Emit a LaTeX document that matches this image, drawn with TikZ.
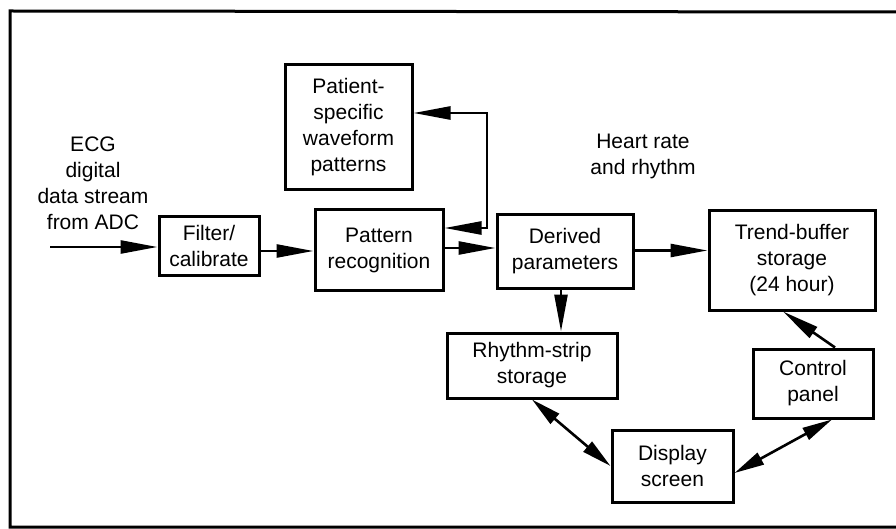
\documentclass[tikz,border=0pt]{standalone}
\usepackage{fontspec}
\setmainfont{Liberation Sans}
\usetikzlibrary{arrows.meta}
\begin{document}
\begin{tikzpicture}[x=1pt,y=-1pt,
  box/.style={draw, line width=3pt, align=center, inner sep=0pt, font=\fontsize{21}{26}\selectfont},
  txt/.style={align=center, inner sep=0pt, font=\fontsize{21}{26}\selectfont},
  conn/.style={line width=2.6pt, -{Triangle[length=37pt,width=13pt]}},
  dconn/.style={line width=2.6pt, {Triangle[length=30pt,width=13pt]}-{Triangle[length=30pt,width=13pt]}},
  frame/.style={line width=3pt}]
\useasboundingbox (0,0) rectangle (896,529);
\draw[frame] (896,12) -- (10,11) -- (10,527) -- (896,527);

\node[box, minimum width=100pt, minimum height=58pt] (filter) at (209,246) {Filter/\\calibrate};
\node[box, minimum width=128pt, minimum height=80pt] (pattern) at (379,250) {Pattern\\recognition};
\node[box, minimum width=127pt, minimum height=125pt] (patient) at (348.5,127.5) {Patient-\\specific\\waveform\\patterns};
\node[box, minimum width=136pt, minimum height=73pt] (derived) at (565,251.5) {Derived\\parameters};
\node[box, minimum width=166pt, minimum height=99pt] (trend) at (792,260.5) {Trend-buffer\\storage\\(24 hour)};
\node[box, minimum width=170pt, minimum height=65pt] (rhythm) at (532,365.5) {Rhythm-strip\\storage};
\node[box, minimum width=121pt, minimum height=72pt] (display) at (672.5,466) {Display\\screen};
\node[box, minimum width=120pt, minimum height=69pt] (control) at (813,383.5) {Control\\panel};

\node[txt] (ecg) at (93,183) {ECG\\digital\\data stream\\from ADC};
\node[txt] (hr) at (643,156) {Heart rate\\and rhythm};

\coordinate (in) at (50,247);
\coordinate (c1) at (487,113);

\draw[conn] (in) -- (in -| filter.west);
\draw[conn] ([yshift=-5pt]filter.east) -- ([yshift=-5pt]filter.east -| pattern.west);
\draw[conn] ([yshift=2pt]pattern.east) -- ([yshift=2pt]pattern.east -| derived.west);
\draw[conn] ([yshift=1pt]derived.east) -- ([yshift=1pt]derived.east -| trend.west);
\draw[conn] ([xshift=-4pt]derived.south) -- ([xshift=-4pt]derived.south |- rhythm.north);
\draw[line width=2.6pt, {Triangle[length=37pt,width=13pt]}-{Triangle[length=37pt,width=13pt]}]
  ([yshift=22pt]pattern.east) -| (c1) -- (patient.east |- c1);
\draw[dconn] (rhythm.south) -- (display.west);
\draw[dconn] ([yshift=-7pt]display.east) -- ([xshift=19pt]control.south);
\draw[conn] ([xshift=22pt]control.north) -- ([xshift=-9pt]trend.south);
\end{tikzpicture}
\end{document}
